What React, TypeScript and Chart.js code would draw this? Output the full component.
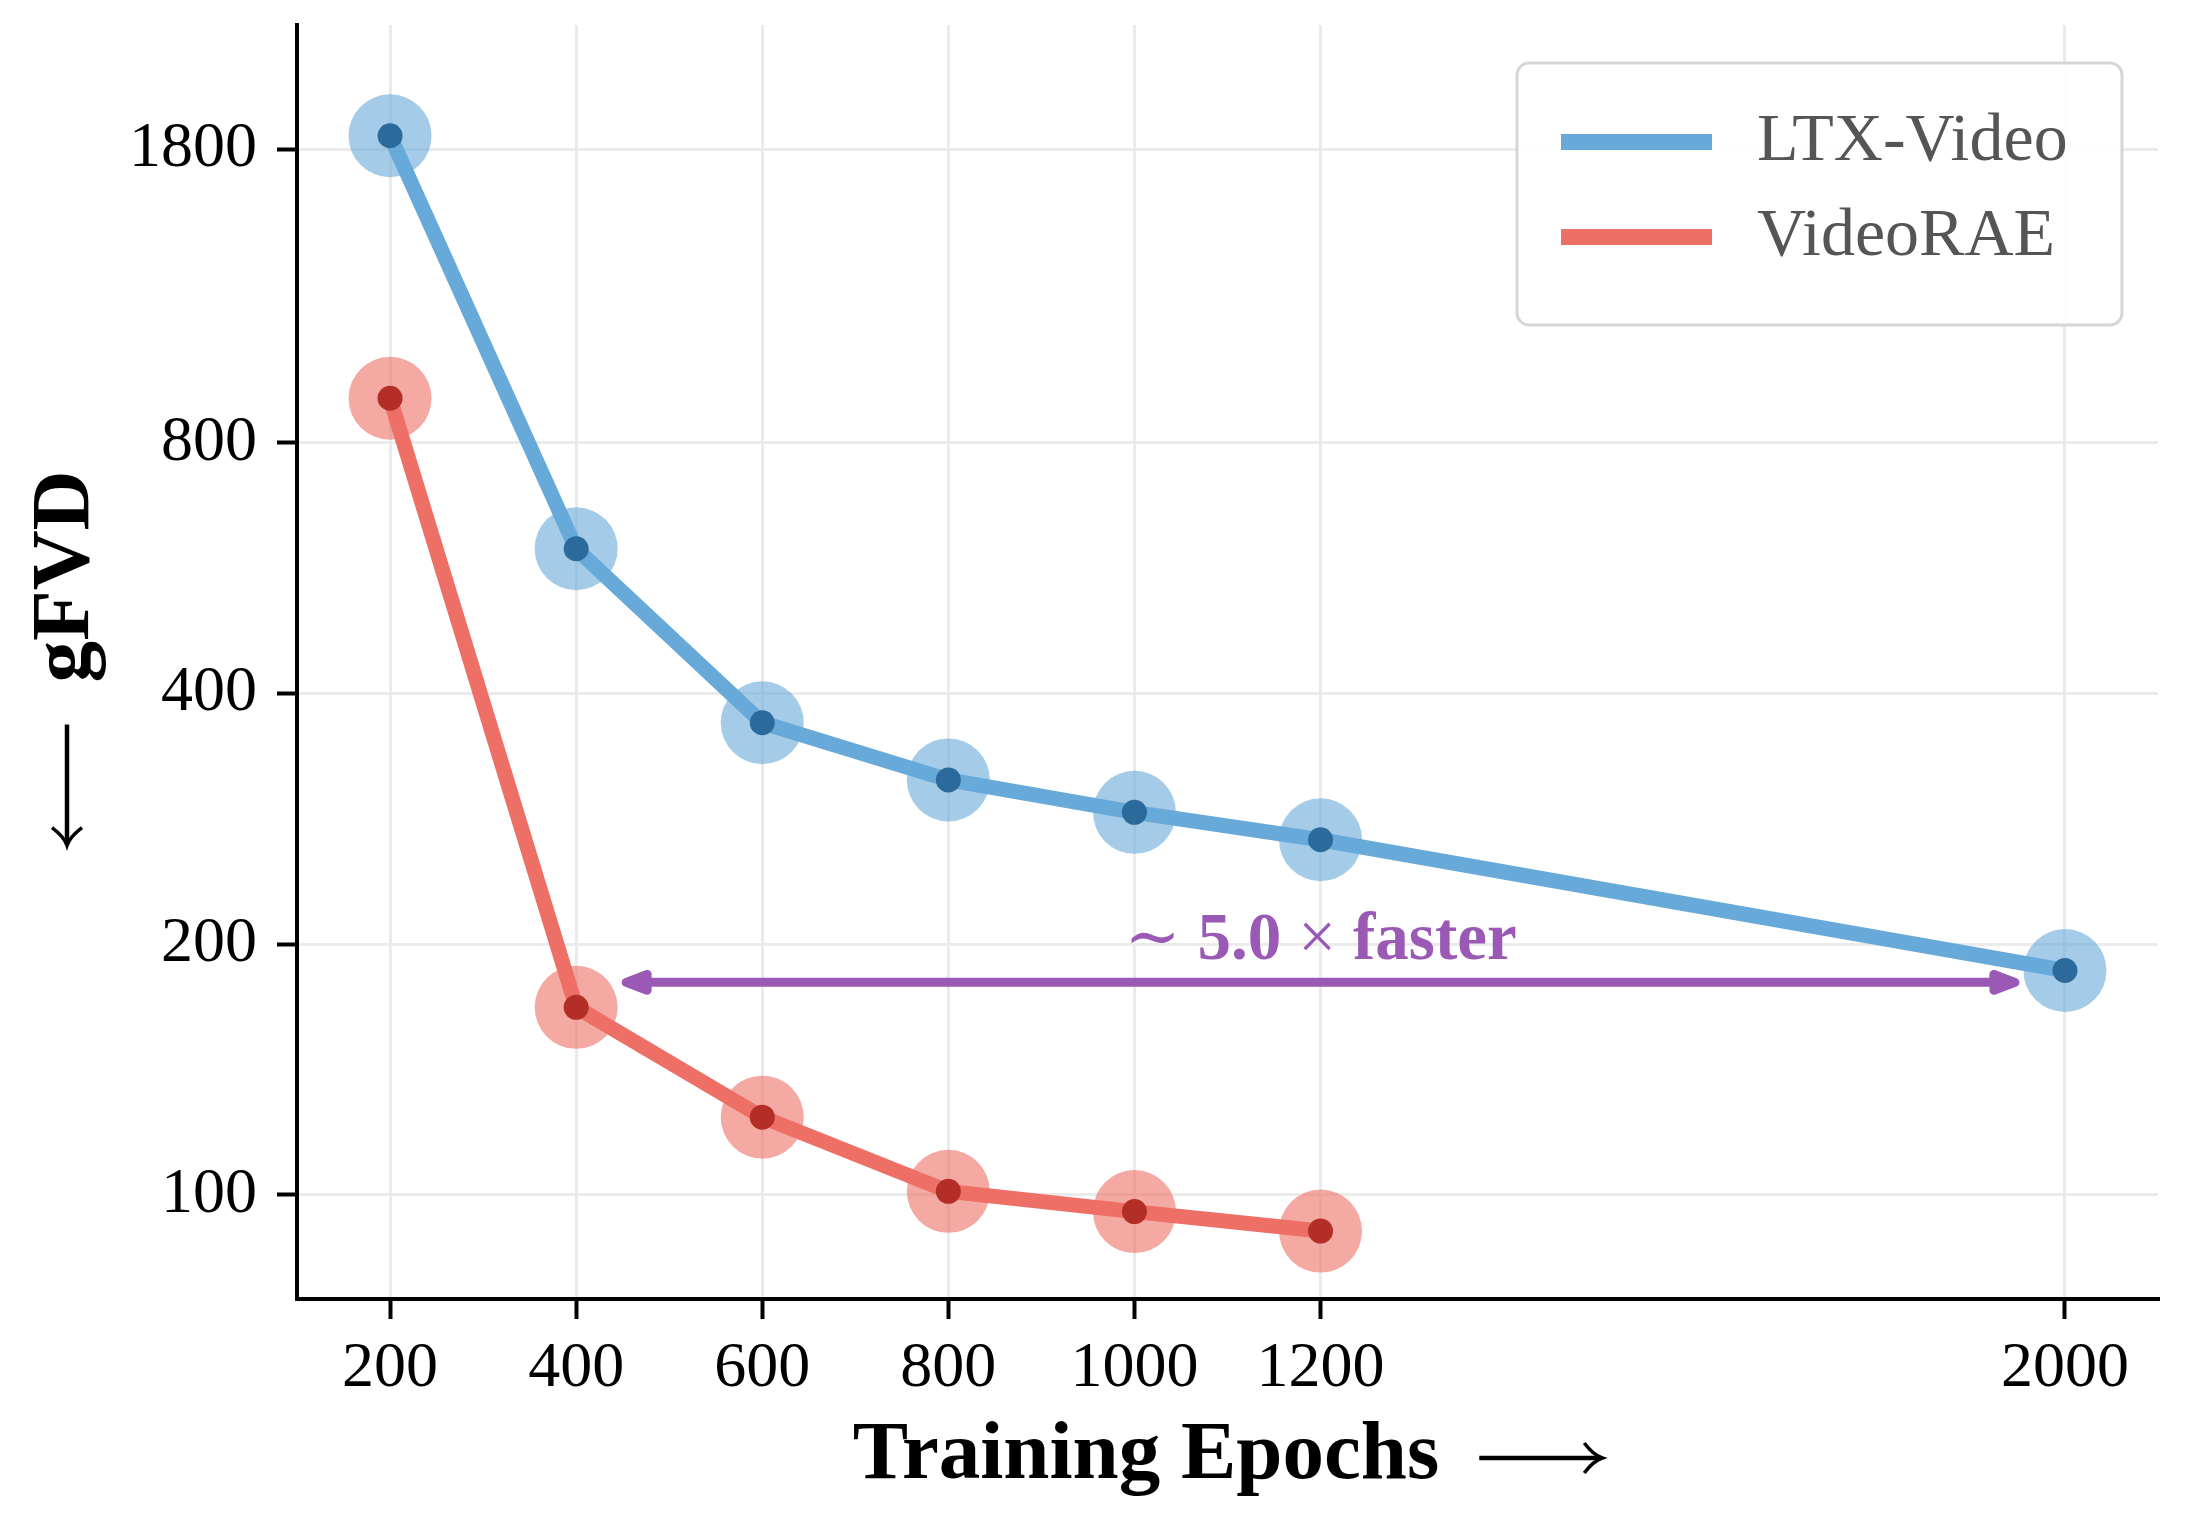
import React, { useEffect, useRef } from "react";
import { Chart, registerables } from "chart.js";

Chart.register(...registerables);

// Training epochs and gFVD for each model
const ltxEpochs = [200, 400, 600, 800, 1000, 1200, 2000];
const ltxGfvd = [1870, 597, 369, 315, 288, 267, 186];
const raeEpochs = [200, 400, 600, 800, 1000, 1200];
const raeGfvd = [905, 168, 124, 101, 95.5, 90.5];

const seriesNames = ["LTX-Video", "VideoRAE"];
const xTicks = [200, 400, 600, 800, 1000, 1200, 2000];
const yTicks = [100, 200, 400, 800, 1800];

const xTitle = "Training Epochs";
const yTitle = "gFVD";

// speed-up annotation: "∼5.0× faster"
const speedupParts = [
  { text: "∼", bold: false },
  { text: "5.0", bold: true },
  { text: "×", bold: false },
  { text: "faster", bold: true },
];
const speedupFrom = 400;
const speedupTo = 2000;
const speedupLevel = 180;
const speedupTextX = 1200;
const speedupTextY = 192;

const SERIF = "'Liberation Serif', 'DejaVu Serif', serif";
const BLUE = "#67A9D8";
const BLUE_HALO = "rgba(103,169,216,0.6)";
const BLUE_DOT = "#2B6A9B";
const RED = "#EE6F66";
const RED_HALO = "rgba(238,111,102,0.6)";
const RED_DOT = "#B22E27";
const PURPLE = "#9B59B6";

const toPoints = (xs: number[], ys: number[]) => xs.map((x, i) => ({ x, y: ys[i] }));

// thin "long arrow" used next to axis titles
function drawLongArrow(ctx: CanvasRenderingContext2D, x0: number, y0: number, x1: number, y1: number) {
  const len = Math.hypot(x1 - x0, y1 - y0);
  ctx.save();
  ctx.translate(x0, y0);
  ctx.rotate(Math.atan2(y1 - y0, x1 - x0));
  ctx.strokeStyle = "#000";
  ctx.lineWidth = 4.5;
  ctx.lineCap = "butt";
  ctx.beginPath();
  ctx.moveTo(0, 0);
  ctx.lineTo(len - 3, 0);
  ctx.stroke();
  ctx.lineWidth = 3.5;
  ctx.beginPath();
  ctx.moveTo(len - 18, -15);
  ctx.quadraticCurveTo(len - 9, -3, len, 0);
  ctx.quadraticCurveTo(len - 9, 3, len - 18, 15);
  ctx.stroke();
  ctx.restore();
}

const axisTitlePlugin = {
  id: "axisTitles",
  afterDraw(chart: any) {
    const { ctx, chartArea } = chart;
    const font = `bold 83px ${SERIF}`;
    const gap = 40;
    const arrowLen = 123;
    ctx.save();
    ctx.fillStyle = "#000";
    ctx.font = font;
    ctx.textBaseline = "alphabetic";
    ctx.textAlign = "left";

    // x title: "Training Epochs ⟶"
    const wx = ctx.measureText(xTitle).width;
    const totalX = wx + gap + arrowLen;
    const cx = (chartArea.left + chartArea.right) / 2;
    const sx = cx - totalX / 2;
    const baseX = 1478;
    ctx.fillText(xTitle, sx, baseX);
    drawLongArrow(ctx, sx + wx + gap, baseX - 20, sx + wx + gap + arrowLen, baseX - 20);

    // y title: "⟵ gFVD" rotated, reading upward
    const wy = ctx.measureText(yTitle).width;
    const yGap = 42;
    const yArrow = 121;
    const totalY = wy + yGap + yArrow;
    const cy = (chartArea.top + chartArea.bottom) / 2 - 4;
    const bottom = cy + totalY / 2;
    const baseY = 88;
    const textStart = bottom - yArrow - yGap;
    ctx.save();
    ctx.translate(baseY, textStart);
    ctx.rotate(-Math.PI / 2);
    ctx.fillText(yTitle, 0, 0);
    ctx.restore();
    drawLongArrow(ctx, 67, bottom - yArrow, 67, bottom);
    ctx.restore();
  },
};

const speedupPlugin = {
  id: "speedup",
  afterDatasetsDraw(chart: any) {
    const { ctx, scales } = chart;
    const xs = scales.x;
    const ys = scales.y;
    const gap = 50;
    const y = ys.getPixelForValue(speedupLevel);
    const x1 = xs.getPixelForValue(speedupFrom) + gap;
    const x2 = xs.getPixelForValue(speedupTo) - gap;
    const headL = 21;
    const headW = 8;
    ctx.save();
    ctx.strokeStyle = PURPLE;
    ctx.fillStyle = PURPLE;
    ctx.lineWidth = 9;
    ctx.lineCap = "butt";
    ctx.beginPath();
    ctx.moveTo(x1 + headL, y);
    ctx.lineTo(x2 - headL, y);
    ctx.stroke();
    ctx.lineJoin = "round";
    for (const [tip, dir] of [[x1, 1], [x2, -1]] as [number, number][]) {
      ctx.beginPath();
      ctx.moveTo(tip, y);
      ctx.lineTo(tip + dir * headL, y - headW);
      ctx.lineTo(tip + dir * headL, y + headW);
      ctx.closePath();
      ctx.fill();
      ctx.stroke();
    }

    // label, drawn piece by piece (math symbols in regular weight)
    const size = 67;
    const spacing = 17;
    const widths = speedupParts.map((p) => {
      ctx.font = `${p.bold ? "bold " : ""}${size}px ${SERIF}`;
      return ctx.measureText(p.text).width;
    });
    const total = widths.reduce((a, b) => a + b, 0) + spacing * (speedupParts.length - 1);
    let x = xs.getPixelForValue(speedupTextX) - total / 2;
    const by = ys.getPixelForValue(speedupTextY);
    ctx.textAlign = "left";
    ctx.textBaseline = "alphabetic";
    speedupParts.forEach((p, i) => {
      ctx.font = `${p.bold ? "bold " : ""}${size}px ${SERIF}`;
      ctx.fillText(p.text, x, by);
      x += widths[i] + spacing;
    });
    ctx.restore();
  },
};

const legendPlugin = {
  id: "boxLegend",
  afterDraw(chart: any) {
    const { ctx, chartArea } = chart;
    const boxW = 605;
    const boxH = 262;
    const x0 = chartArea.right - 36 - boxW;
    const y0 = chartArea.top + 38;
    ctx.save();
    ctx.beginPath();
    ctx.roundRect(x0, y0, boxW, boxH, 12);
    ctx.fillStyle = "rgba(255,255,255,0.9)";
    ctx.fill();
    ctx.lineWidth = 3;
    ctx.strokeStyle = "#d6d6d6";
    ctx.stroke();
    const items = chart.data.datasets.filter((d: any) => d.label);
    items.forEach((d: any, i: number) => {
      const cy = y0 + 79 + i * 95;
      ctx.beginPath();
      ctx.strokeStyle = d.borderColor;
      ctx.lineWidth = 16;
      ctx.lineCap = "butt";
      ctx.moveTo(x0 + 44, cy);
      ctx.lineTo(x0 + 195, cy);
      ctx.stroke();
      ctx.fillStyle = "#555555";
      ctx.font = `68px ${SERIF}`;
      ctx.textAlign = "left";
      ctx.textBaseline = "middle";
      ctx.fillText(d.label, x0 + 240, cy);
    });
    ctx.restore();
  },
};

export default function App() {
  const canvasRef = useRef<HTMLCanvasElement | null>(null);

  useEffect(() => {
    const canvas = canvasRef.current;
    if (!canvas) return;
    const tickFont = { family: SERIF, size: 64 };
    const gridStyle = {
      color: "#ebebeb",
      lineWidth: 3,
      tickColor: "#000",
      tickLength: 20,
      tickWidth: 4,
    };
    const halo = (xs: number[], ys: number[], color: string) => ({
      data: toPoints(xs, ys),
      showLine: false,
      pointRadius: 41.5,
      pointHoverRadius: 41.5,
      pointBackgroundColor: color,
      pointBorderWidth: 0,
      order: 3,
      clip: false,
    });
    const line = (label: string, xs: number[], ys: number[], color: string, dot: string) => ({
      label,
      data: toPoints(xs, ys),
      showLine: true,
      borderColor: color,
      borderWidth: 15,
      borderJoinStyle: "round",
      borderCapStyle: "round",
      pointRadius: 12.5,
      pointHoverRadius: 12.5,
      pointBackgroundColor: dot,
      pointBorderWidth: 0,
      order: 1,
      clip: false,
    });
    const chart = new Chart(canvas, {
      type: "scatter",
      data: {
        datasets: [
          halo(ltxEpochs, ltxGfvd, BLUE_HALO),
          halo(raeEpochs, raeGfvd, RED_HALO),
          line(seriesNames[0], ltxEpochs, ltxGfvd, BLUE, BLUE_DOT),
          line(seriesNames[1], raeEpochs, raeGfvd, RED, RED_DOT),
        ] as any,
      },
      options: {
        animation: false,
        responsive: false,
        devicePixelRatio: 1,
        events: [],
        layout: { autoPadding: false, padding: { top: 25, right: 28, left: 0, bottom: 0 } },
        plugins: {
          legend: { display: false },
          tooltip: { enabled: false },
        },
        scales: {
          x: {
            type: "linear",
            min: 100,
            max: 2100,
            afterBuildTicks: (s: any) => {
              s.ticks = xTicks.map((v) => ({ value: v }));
            },
            afterFit: (s: any) => {
              s.height = 226;
              s.paddingLeft = 0;
              s.paddingRight = 0;
            },
            ticks: {
              font: tickFont,
              color: "#000",
              padding: 12,
              maxRotation: 0,
              autoSkip: false,
              callback: (v: any) => String(v),
            },
            grid: gridStyle,
            border: { display: true, color: "#000", width: 4 },
          },
          y: {
            type: "logarithmic",
            min: 75,
            max: 2540,
            afterBuildTicks: (s: any) => {
              s.ticks = yTicks.map((v) => ({ value: v }));
            },
            afterFit: (s: any) => {
              s.width = 297;
              s.paddingTop = 0;
              s.paddingBottom = 0;
            },
            ticks: {
              font: tickFont,
              color: "#000",
              padding: 20,
              autoSkip: false,
              callback: (v: any) => String(v),
            },
            grid: gridStyle,
            border: { display: true, color: "#000", width: 4 },
          },
        },
      } as any,
      plugins: [speedupPlugin, legendPlugin, axisTitlePlugin],
    });
    return () => chart.destroy();
  }, []);

  return (
    <div style={{ position: "absolute", left: 0, top: 0, width: 2186, height: 1525, background: "#fff" }}>
      <canvas ref={canvasRef} width={2186} height={1525} style={{ width: 2186, height: 1525, display: "block" }} />
    </div>
  );
}
